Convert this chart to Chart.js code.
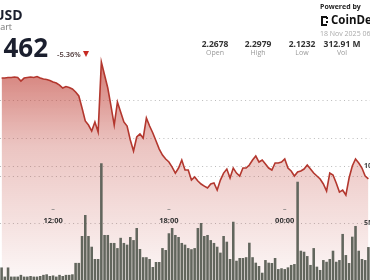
<!DOCTYPE html>
<html><head><meta charset="utf-8">
<script src="https://cdn.jsdelivr.net/npm/chart.js@4"></script>
<style>
html,body{margin:0;padding:0;background:#fff;overflow:hidden;}
#wrap{position:relative;width:370px;height:280px;overflow:hidden;font-family:"Open Sans",sans-serif;}
#c{position:absolute;left:0;top:0;}
.t{position:absolute;white-space:nowrap;line-height:1;}
.sv{position:absolute;width:50px;text-align:center;line-height:1;font-size:8.5px;font-weight:700;color:#333;}
.sl{position:absolute;width:50px;text-align:center;line-height:1;font-size:7px;color:#999;}
</style></head><body>
<div id="wrap">
<div style="position:absolute;left:0;top:0;width:370px;height:280px;"><canvas id="c"></canvas></div>
<div class="t" style="left:-6px;top:8px;font-size:14px;font-weight:700;color:#1b1f2e">USD</div>
<div class="t" style="left:-11px;top:22px;font-size:9px;color:#777">Chart</div>
<div class="t" style="left:-62px;width:110px;text-align:right;top:34px;font-size:26px;font-weight:700;color:#1b1f2e">2.1462</div>
<div class="t" style="left:57px;top:50.5px;font-size:7.5px;font-weight:600;color:#4a3535">-5.36%</div>
<div style="position:absolute;left:83px;top:51px;width:0;height:0;border-left:3.5px solid transparent;border-right:3.5px solid transparent;border-top:6px solid #c62a22;"></div>
<div class="t" style="left:320px;top:3px;font-size:7px;font-weight:700;color:#222">Powered by</div>
<div style="position:absolute;left:321px;top:16px;width:4px;height:6px;border:2px solid #111;border-right:none;"></div>
<div style="position:absolute;left:326px;top:17px;width:2px;height:2px;background:#111;"></div>
<div style="position:absolute;left:326px;top:21px;width:2px;height:2px;background:#111;"></div>
<div class="t" style="left:331px;top:14px;font-size:11.5px;font-weight:700;color:#111">CoinDesk</div>
<div class="t" style="left:320px;top:29.5px;font-size:7px;color:#aaa">18 Nov 2025 06:30</div>
<div class="sv" style="left:190px;top:39.5px">2.2678</div><div class="sl" style="left:190px;top:49px">Open</div>
<div class="sv" style="left:233px;top:39.5px">2.2979</div><div class="sl" style="left:233px;top:49px">High</div>
<div class="sv" style="left:277px;top:39.5px">2.1232</div><div class="sl" style="left:277px;top:49px">Low</div>
<div class="sv" style="left:317px;top:39.5px">312.91 M</div><div class="sl" style="left:317px;top:49px">Vol</div>
</div>
<script>
const timeLabels = ["09:20","09:30","09:40","09:50",
"10:00","10:10","10:20","10:30","10:40","10:50",
"11:00","11:10","11:20","11:30","11:40","11:50",
"12:00","12:10","12:20","12:30","12:40","12:50",
"13:00","13:10","13:20","13:30","13:40","13:50",
"14:00","14:10","14:20","14:30","14:40","14:50",
"15:00","15:10","15:20","15:30","15:40","15:50",
"16:00","16:10","16:20","16:30","16:40","16:50",
"17:00","17:10","17:20","17:30","17:40","17:50",
"18:00","18:10","18:20","18:30","18:40","18:50",
"19:00","19:10","19:20","19:30","19:40","19:50",
"20:00","20:10","20:20","20:30","20:40","20:50",
"21:00","21:10","21:20","21:30","21:40","21:50",
"22:00","22:10","22:20","22:30","22:40","22:50",
"23:00","23:10","23:20","23:30","23:40","23:50",
"00:00","00:10","00:20","00:30","00:40","00:50",
"01:00","01:10","01:20","01:30","01:40","01:50",
"02:00","02:10","02:20","02:30","02:40","02:50",
"03:00","03:10","03:20","03:30","03:40","03:50",
"04:00","04:10","04:20"];

const priceValues = [2.2789,2.2789,2.2796,2.2796,2.2803,2.2796,2.2750,2.2789,2.2796,2.2803,
2.2796,2.2809,2.2789,2.2776,2.2770,2.2757,2.2737,2.2724,2.2697,2.2658,
2.2678,2.2664,2.2645,2.2605,2.2553,2.2395,2.2224,2.2171,2.2092,2.2211,
2.2079,2.3000,2.2829,2.2658,2.2421,2.2171,2.2474,2.2342,2.2211,2.2158,
2.1974,2.1829,2.2013,2.2053,2.2000,2.2263,2.2158,2.2066,2.1961,2.1855,
2.1776,2.1724,2.1684,2.1618,2.1539,2.1605,2.1711,2.1579,2.1579,2.1447,
2.1487,2.1434,2.1395,2.1368,2.1342,2.1395,2.1408,2.1316,2.1447,2.1539,
2.1592,2.1474,2.1605,2.1539,2.1500,2.1605,2.1605,2.1645,2.1711,2.1763,
2.1684,2.1711,2.1658,2.1605,2.1579,2.1671,2.1671,2.1684,2.1724,2.1605,
2.1566,2.1500,2.1553,2.1566,2.1592,2.1645,2.1592,2.1539,2.1500,2.1461,
2.1395,2.1303,2.1539,2.1513,2.1408,2.1289,2.1316,2.1250,2.1474,2.1632,
2.1724,2.1671,2.1605,2.1500,2.1462];

const volumeValues = [1.1,0.3,1.1,0.3,0.3,0.3,0.45,0.3,0.3,0.35,
0.3,0.3,0.35,0.45,0.5,0.35,0.4,0.3,0.45,0.35,
0.45,0.45,0.5,1.5,1.5,3.86,5.7,3.86,2.92,1.84,
1.84,10.24,3.95,3.95,3.25,3.25,2.8,3.7,3.25,3.1,
3.77,3.5,4.56,2.72,2.0,2.0,1.84,1.14,1.58,1.58,
2.8,2.63,4.1,4.56,3.95,3.77,3.25,3.1,2.8,2.7,
2.8,4.56,5.0,3.86,3.95,3.5,3.25,2.92,2.4,3.86,
3.36,1.84,5.11,1.69,1.93,1.93,2.0,3.27,2.0,1.52,
1.23,0.64,1.75,1.52,1.49,1.93,0.96,1.03,0.96,1.11,
1.32,1.4,8.62,2.57,2.48,2.1,1.32,2.8,1.17,0.88,
1.75,1.6,1.84,2.57,1.6,1.75,4.04,2.19,1.49,3.8,
4.74,2.57,1.84,1.75,2.89];

const timeTicks = ["12:00","18:00","00:00"];
const priceGrid = [2.15, 2.20, 2.25];
const volumeGrid = [5, 10];
const volumeTickLabels = ["5M", "10M"];

const overlay = {
  id: 'overlay',
  beforeDatasetsDraw(chart) {
    const ctx = chart.ctx, a = chart.chartArea;
    const y = chart.scales.y, yv = chart.scales.yVol;
    ctx.save();
    ctx.setLineDash([1, 3.3]);
    ctx.lineWidth = 1;
    ctx.strokeStyle = 'rgba(150,150,150,0.65)';
    const lines = priceGrid.map(v => y.getPixelForValue(v)).concat(volumeGrid.map(v => yv.getPixelForValue(v)));
    lines.forEach(p => {
      const py = Math.round(p) + 0.5;
      ctx.beginPath(); ctx.moveTo(a.left, py); ctx.lineTo(a.right, py); ctx.stroke();
    });
    ctx.restore();
  },
  afterDatasetsDraw(chart) {
    const ctx = chart.ctx;
    const x = chart.scales.x, yv = chart.scales.yVol;
    ctx.save();
    const ly = yv.getPixelForValue(volumeGrid[0]) - 2;
    ctx.font = '700 7.5px "Open Sans", sans-serif';
    ctx.textAlign = 'center';
    ctx.textBaseline = 'middle';
    timeTicks.forEach(t => {
      const px = x.getPixelForValue(timeLabels.indexOf(t));
      ctx.fillStyle = '#333';
      ctx.fillText(t, px, ly);
      ctx.fillStyle = 'rgba(120,120,120,0.7)';
      ctx.fillRect(px - 1.5, ly - 12, 3, 1);
    });
    ctx.font = '700 7px "Open Sans", sans-serif';
    ctx.textAlign = 'left';
    ctx.fillStyle = '#444';
    volumeGrid.forEach((v, i) => {
      ctx.fillText(volumeTickLabels[i], 364, yv.getPixelForValue(v));
    });
    ctx.restore();
  }
};

new Chart(document.getElementById('c'), {
  type: 'bar',
  data: {
    labels: timeLabels,
    datasets: [
      {
        type: 'line',
        data: priceValues,
        yAxisID: 'y',
        order: 2,
        borderColor: '#b3372e',
        borderWidth: 1.6,
        pointRadius: 0,
        tension: 0,
        fill: 'start',
        backgroundColor: (c) => {
          const ch = c.chart, a = ch.chartArea;
          if (!a) return 'rgba(190,60,50,0.3)';
          const g = ch.ctx.createLinearGradient(0, a.top + 55, 0, a.bottom);
          g.addColorStop(0, 'rgba(190,60,50,0.7)');
          g.addColorStop(0.4, 'rgba(190,60,50,0.3)');
          g.addColorStop(1, 'rgba(190,60,50,0.04)');
          return g;
        }
      },
      {
        type: 'bar',
        data: volumeValues,
        yAxisID: 'yVol',
        order: 1,
        backgroundColor: '#62665d',
        barPercentage: 0.8,
        categoryPercentage: 1.0
      }
    ]
  },
  options: {
    responsive: true,
    maintainAspectRatio: false,
    animation: false,
    events: [],
    layout: { padding: 0 },
    plugins: { legend: { display: false }, tooltip: { enabled: false } },
    scales: {
      x: { display: false, offset: true },
      y: { display: false, min: 2.0132, max: 2.3816 },
      yVol: { display: false, position: 'right', min: 0, max: 24.56 }
    }
  },
  plugins: [overlay]
});
</script>
</body></html>
